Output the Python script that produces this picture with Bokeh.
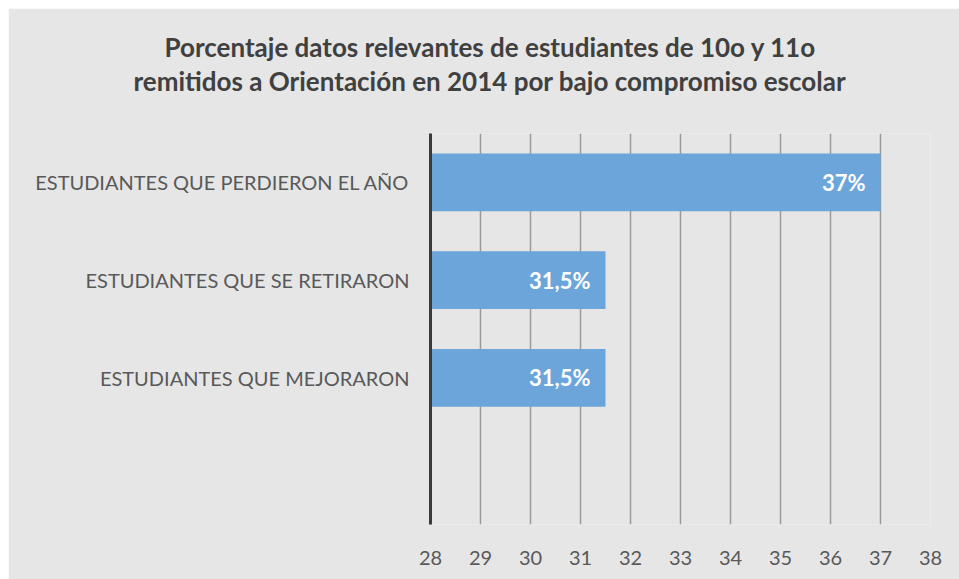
from bokeh.plotting import figure
from bokeh.models import ColumnDataSource, FixedTicker, Range1d, Title
from bokeh.core.properties import value
from bokeh.embed import file_html
from bokeh.resources import INLINE

# ---- data ----
categories = ["ESTUDIANTES QUE PERDIERON EL AÑO",
              "ESTUDIANTES QUE SE RETIRARON",
              "ESTUDIANTES QUE MEJORARON"]
values = [37, 31.5, 31.5]
value_labels = ["37%", "31,5%", "31,5%"]
slots = [3.5, 2.5, 1.5]          # category slot centres (a fourth, empty slot at 0.5)
x_ticks = [28, 29, 30, 31, 32, 33, 34, 35, 36, 37, 38]
title_lines = ["Porcentaje datos relevantes de estudiantes de 10o y 11o",
               "remitidos a Orientación en 2014 por bajo compromiso escolar"]

FONT = "Lato"
BG = "#e6e6e6"

src = ColumnDataSource(dict(cat=categories, val=values, lab=value_labels,
                            y=slots, base=[x_ticks[0]] * len(values)))

p = figure(output_backend="svg", toolbar_location=None,
           x_range=Range1d(28, 38), y_range=Range1d(0, 4),
           frame_width=500, frame_height=391,
           min_border_left=422, min_border_right=29,
           min_border_top=0, min_border_bottom=55,
           margin=(8, 0, 0, 8))
p.outline_line_color = None
p.background_fill_color = BG
p.border_fill_color = BG

# title: stacked from the frame outward (spacer, line 2, line 1, spacer)
p.add_layout(Title(text=" ", text_font_size="2px", standoff=33), "above")
p.add_layout(Title(text=title_lines[1], align="left", offset=-297, standoff=0,
                   text_font=FONT, text_font_style="bold",
                   text_font_size="26px", text_color="#404040"), "above")
p.add_layout(Title(text=title_lines[0], align="left", offset=-266, standoff=0,
                   text_font=FONT, text_font_style="bold",
                   text_font_size="26px", text_color="#404040"), "above")
p.add_layout(Title(text=" ", text_font_size="2px", standoff=16), "above")

p.hbar(y="y", left="base", right="val", height=0.59, source=src,
       fill_color="#6ca5da", line_color=None)

p.text(x="val", y="y", text="lab", source=src, x_offset=-15,
       text_align="right", text_baseline="middle",
       text_color="white", text_font=value(FONT), text_font_style="bold",
       text_font_size="22px")

# x axis
p.xaxis.ticker = FixedTicker(ticks=x_ticks)
p.xaxis.axis_line_color = None
p.xaxis.major_tick_line_color = None
p.xaxis.minor_tick_line_color = None
p.xaxis.major_label_standoff = 20
p.xaxis.major_label_text_font = FONT
p.xaxis.major_label_text_font_size = "20px"
p.xaxis.major_label_text_color = "#595959"

# y axis
p.yaxis.ticker = FixedTicker(ticks=slots)
p.yaxis.major_label_overrides = {s: c for s, c in zip(slots, categories)}
p.yaxis.axis_line_color = "#3a3a3a"
p.yaxis.axis_line_width = 3
p.yaxis.major_tick_line_color = None
p.yaxis.minor_tick_line_color = None
p.yaxis.major_label_standoff = 15
p.yaxis.major_label_text_font = FONT
p.yaxis.major_label_text_font_size = "20px"
p.yaxis.major_label_text_color = "#595959"

p.xgrid.ticker = FixedTicker(ticks=x_ticks[1:])
p.xgrid.grid_line_color = "#9a9a9a"
p.xgrid.grid_line_width = 1.5
p.ygrid.grid_line_color = None

open("out.html", "w").write(file_html(p, INLINE))
